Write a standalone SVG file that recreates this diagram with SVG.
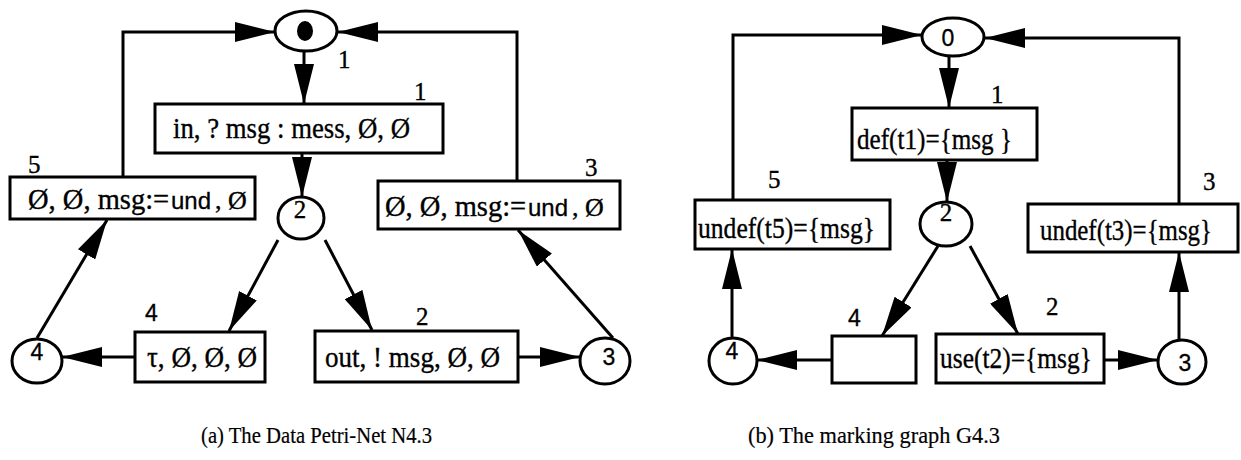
<svg xmlns="http://www.w3.org/2000/svg" width="1241" height="460" viewBox="0 0 1241 460">
  <style>
    .box { fill: #fff; stroke: #000; stroke-width: 3; }
    .place { fill: #fff; stroke: #000; stroke-width: 3; }
    .edge { fill: none; stroke: #000; stroke-width: 3; marker-end: url(#head); }
    .lab { font-family: "Liberation Serif", "Times New Roman", serif; fill: #000; stroke: #000; stroke-width: 0.35; }
    .sans { font-family: "Liberation Sans", Arial, sans-serif; fill: #000; stroke: #000; stroke-width: 0.3; }
    .tl { font-size: 30px; }
    .tr { font-size: 29px; }
    .seg { font-size: 28.5px; }
    .tail { font-size: 26px; }
    .und { font-size: 24px; }
    .num { font-size: 25px; }
    .dig { font-size: 23px; }
    .cap { font-size: 24px; stroke-width: 0.2; }
  </style>
  <defs>
    <marker id="head" viewBox="0 0 40 20" refX="40" refY="10" markerWidth="40" markerHeight="20" markerUnits="userSpaceOnUse" orient="auto">
      <path d="M0,0 L40,10 L0,20 Z" fill="#000"/>
    </marker>
  </defs>

  <!-- arcs of both graphs -->
  <g id="connectors">
    <!-- (a) Data Petri-Net -->
    <line class="edge" x1="304" y1="51" x2="304" y2="104"/>
    <line class="edge" x1="302" y1="153" x2="302" y2="197"/>
    <polyline class="edge" points="123,177 123,32 275,32"/>
    <polyline class="edge" points="517,181 517,32 338,32"/>
    <line class="edge" x1="278" y1="240" x2="229" y2="331"/>
    <line class="edge" x1="325" y1="240" x2="372" y2="330"/>
    <line class="edge" x1="135" y1="357" x2="62" y2="357"/>
    <line class="edge" x1="37" y1="338" x2="107" y2="220"/>
    <line class="edge" x1="518" y1="357" x2="580" y2="357"/>
    <line class="edge" x1="613" y1="338" x2="518" y2="230"/>
    <!-- (b) marking graph -->
    <polyline class="edge" points="733,200 733,35 922,35"/>
    <polyline class="edge" points="1179,204 1179,38 985,38"/>
    <line class="edge" x1="949" y1="56" x2="949" y2="108"/>
    <line class="edge" x1="947" y1="160" x2="947" y2="202"/>
    <line class="edge" x1="938" y1="246" x2="882" y2="336"/>
    <line class="edge" x1="970" y1="246" x2="1018" y2="334"/>
    <line class="edge" x1="832" y1="360" x2="757" y2="360"/>
    <line class="edge" x1="732" y1="338" x2="732" y2="249"/>
    <line class="edge" x1="1104" y1="360" x2="1158" y2="360"/>
    <line class="edge" x1="1179" y1="340" x2="1179" y2="252"/>
  </g>

  <!-- (a) places -->
  <g id="a-p1">
    <ellipse class="place" cx="306" cy="31" rx="31" ry="20"/>
    <ellipse cx="305" cy="31" rx="8" ry="10" fill="#000"/>
    <text class="lab num" x="338" y="68">1</text>
  </g>
  <g id="a-p2">
    <ellipse class="place" cx="301" cy="218" rx="23" ry="21"/>
    <text class="lab num" x="300" y="218" text-anchor="middle">2</text>
  </g>
  <g id="a-p3">
    <ellipse class="place" cx="605" cy="361" rx="25" ry="23"/>
    <text class="sans dig" x="609" y="365" text-anchor="middle">3</text>
  </g>
  <g id="a-p4">
    <ellipse class="place" cx="37" cy="361" rx="25" ry="22"/>
    <text class="sans dig" x="37" y="360" text-anchor="middle">4</text>
  </g>

  <!-- (a) transitions -->
  <g id="a-t1">
    <rect class="box" x="155" y="104" width="288" height="49"/>
    <text class="lab tl" x="173" y="138" textLength="237" lengthAdjust="spacingAndGlyphs">in, ? msg : mess, Ø, Ø</text>
    <text class="lab num" x="414" y="100">1</text>
  </g>
  <g id="a-t2">
    <rect class="box" x="315" y="331" width="203" height="51"/>
    <text class="lab tl" x="325" y="367" textLength="175" lengthAdjust="spacingAndGlyphs">out, ! msg, Ø, Ø</text>
    <text class="lab num" x="416" y="325">2</text>
  </g>
  <g id="a-t3">
    <rect class="box" x="378" y="181" width="242" height="48"/>
    <text class="lab seg" x="385" y="216">Ø, Ø, msg:=</text>
    <text class="sans und" x="528" y="216">und</text>
    <text class="lab tail" x="572" y="216">, Ø</text>
    <text class="lab num" x="585" y="176">3</text>
  </g>
  <g id="a-t4">
    <rect class="box" x="135" y="332" width="130" height="50"/>
    <text class="lab tl" x="147" y="367" textLength="110" lengthAdjust="spacingAndGlyphs">τ, Ø, Ø, Ø</text>
    <text class="sans dig" x="145" y="321">4</text>
  </g>
  <g id="a-t5">
    <rect class="box" x="10" y="177" width="245" height="42"/>
    <text class="lab seg" x="28" y="209">Ø, Ø, msg:=</text>
    <text class="sans und" x="171" y="209">und</text>
    <text class="lab tail" x="215" y="209">, Ø</text>
    <text class="lab num" x="28" y="173">5</text>
  </g>

  <!-- (b) markings -->
  <g id="b-m0">
    <ellipse class="place" cx="953" cy="37" rx="31" ry="19"/>
    <text class="sans dig" x="948" y="46" text-anchor="middle">0</text>
  </g>
  <g id="b-m2">
    <ellipse class="place" cx="946" cy="224" rx="26" ry="22"/>
    <text class="lab num" x="946" y="221" text-anchor="middle">2</text>
  </g>
  <g id="b-m3">
    <ellipse class="place" cx="1182" cy="362" rx="24" ry="22"/>
    <text class="sans dig" x="1185" y="371" text-anchor="middle">3</text>
  </g>
  <g id="b-m4">
    <ellipse class="place" cx="733" cy="361" rx="24" ry="23"/>
    <text class="sans dig" x="732" y="359" text-anchor="middle">4</text>
  </g>

  <!-- (b) firings -->
  <g id="b-t1">
    <rect class="box" x="852" y="108" width="185" height="52"/>
    <text class="lab tr" x="857" y="149" textLength="155" lengthAdjust="spacingAndGlyphs">def(t1)={msg }</text>
    <text class="lab num" x="991" y="103">1</text>
  </g>
  <g id="b-t2">
    <rect class="box" x="936" y="334" width="168" height="49"/>
    <text class="lab tr" x="940" y="368" textLength="152" lengthAdjust="spacingAndGlyphs">use(t2)={msg}</text>
    <text class="lab num" x="1046" y="315">2</text>
  </g>
  <g id="b-t3">
    <rect class="box" x="1028" y="204" width="210" height="48"/>
    <text class="lab tr" x="1040" y="240" textLength="172" lengthAdjust="spacingAndGlyphs">undef(t3)={msg}</text>
    <text class="lab num" x="1203" y="190">3</text>
  </g>
  <g id="b-t4">
    <rect class="box" x="832" y="336" width="84" height="47"/>
    <text class="sans dig" x="848" y="326">4</text>
  </g>
  <g id="b-t5">
    <rect class="box" x="695" y="200" width="195" height="49"/>
    <text class="lab tr" x="698" y="238" textLength="177" lengthAdjust="spacingAndGlyphs">undef(t5)={msg}</text>
    <text class="lab num" x="768" y="188">5</text>
  </g>

  <!-- captions -->
  <g id="captions">
    <text class="lab cap" x="201" y="443" textLength="231" lengthAdjust="spacingAndGlyphs">(a) The Data Petri-Net N4.3</text>
    <text class="lab cap" x="748" y="443" textLength="252" lengthAdjust="spacingAndGlyphs">(b) The marking graph G4.3</text>
  </g>
</svg>
